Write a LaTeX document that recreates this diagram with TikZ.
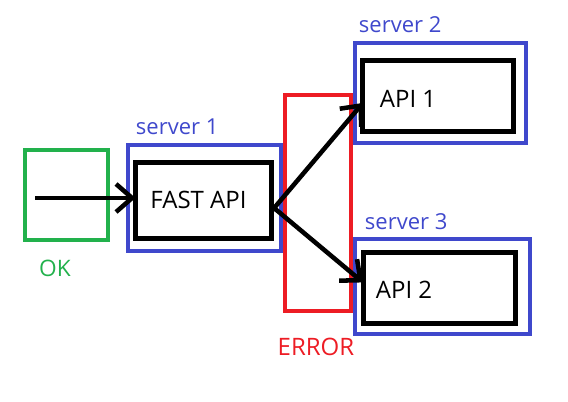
\documentclass[tikz,border=0pt]{standalone}
\usepackage{fontspec}
\setmainfont{Open Sans}
\usetikzlibrary{arrows.meta}

\definecolor{paintblue}{RGB}{63,72,204}
\definecolor{paintgreen}{RGB}{34,177,76}
\definecolor{paintred}{RGB}{237,28,36}

\tikzset{every picture/.style={line width=0.75pt}}

\begin{document}
\begin{tikzpicture}[x=0.75pt,y=0.75pt,yscale=-1,xscale=1,
	box/.style={draw, rectangle, inner sep=0pt, outer sep=0pt},
	serverbox/.style={box, draw=paintblue, line width=3pt},
	apibox/.style={box, draw=black, line width=3.75pt},
	okbox/.style={box, draw=paintgreen, line width=3pt},
	errbox/.style={box, draw=paintred, line width=3pt},
	flow/.style={draw=black, line width=3.4pt, -{Straight Barb[length=12pt,width=21pt]}},
	srvlabel/.style={anchor=west, text=paintblue, font=\fontsize{16.5}{19}\selectfont},
	apilabel/.style={font=\fontsize{18}{21}\selectfont}]
	\useasboundingbox (0,0) rectangle (568,402);

	%Red error box (under the servers)
	\node[errbox, minimum width=49.5pt, minimum height=162pt] (err) at (318,203) {};

	%Input box
	\node[okbox, minimum width=62.25pt, minimum height=67.5pt] (ok) at (66.5,195) {};
	\coordinate (in) at (35,198);

	%Servers
	\node[serverbox, minimum width=114.75pt, minimum height=79.5pt] (srv1) at (204.5,198) {};
	\node[serverbox, minimum width=128.25pt, minimum height=75pt] (srv2) at (440.5,93) {};
	\node[serverbox, minimum width=131.6pt, minimum height=71.25pt] (srv3) at (442.25,286.5) {};

	%APIs
	\node[apibox, minimum width=102pt, minimum height=57pt] (fast) at (203.5,200.5) {};
	\node[apibox, minimum width=112.9pt, minimum height=52.9pt] (api1) at (438.25,96.25) {};
	\node[apibox, minimum width=114pt, minimum height=53.6pt] (api2) at (439,287.75) {};

	%Arrows
	\draw[flow] (in) -- (in -| fast.west);
	\draw[flow] ([yshift=8pt]fast.east) -- ([yshift=5pt]api1.west);
	\draw[flow] ([yshift=4pt]fast.east) -- ([yshift=-4pt]api2.west);

	% Text Node
	\node[apilabel] (fastlbl) at (198.5,200) {FAST API};
	\node[apilabel, anchor=west] (api1lbl) at (375,99) {API 1};
	\node[apilabel, anchor=west] (api2lbl) at (371,290) {API 2};
	\node[srvlabel] (srv1lbl) at (131,127) {server 1};
	\node[srvlabel] (srv2lbl) at (354,25) {server 2};
	\node[srvlabel] (srv3lbl) at (360,222) {server 3};
	\node[text=paintgreen, font=\fontsize{17}{20}\selectfont] (oklbl) at (55,268) {OK};
	\node[text=paintred, font=\fontsize{18}{21}\selectfont] (errlbl) at (316,347) {ERROR};
\end{tikzpicture}
\end{document}
